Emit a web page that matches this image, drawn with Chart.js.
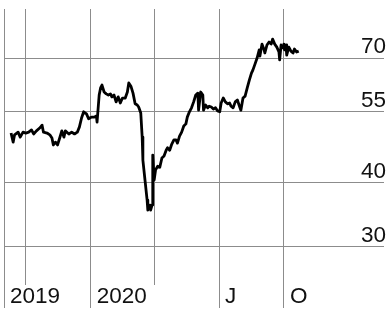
<!DOCTYPE html>
<html>
<head>
<meta charset="utf-8">
<script src="https://cdn.jsdelivr.net/npm/chart.js@4"></script>
<style>
  html, body { margin: 0; padding: 0; background: #fff; }
  #wrap { width: 388px; height: 311px; }
</style>
</head>
<body>
<div id="wrap"><canvas id="priceChart"></canvas></div>
<script>
const dates = [
  "2019-09-10", "2019-09-13", "2019-09-15", "2019-09-20", "2019-09-23", "2019-09-27",
  "2019-10-01", "2019-10-05", "2019-10-09", "2019-10-12", "2019-10-16", "2019-10-21",
  "2019-10-24", "2019-10-26", "2019-10-31", "2019-11-04", "2019-11-07", "2019-11-09",
  "2019-11-12", "2019-11-15", "2019-11-18", "2019-11-21", "2019-11-24", "2019-11-26",
  "2019-12-01", "2019-12-05", "2019-12-09", "2019-12-13", "2019-12-16", "2019-12-19",
  "2019-12-22", "2019-12-26", "2019-12-29", "2020-01-02", "2020-01-06", "2020-01-09",
  "2020-01-10", "2020-01-13", "2020-01-15", "2020-01-17", "2020-01-20", "2020-01-23",
  "2020-01-26", "2020-01-29", "2020-01-31", "2020-02-03", "2020-02-06", "2020-02-09",
  "2020-02-12", "2020-02-15", "2020-02-19", "2020-02-22", "2020-02-24", "2020-02-27",
  "2020-03-01", "2020-03-04", "2020-03-07", "2020-03-09", "2020-03-12", "2020-03-14",
  "2020-03-15", "2020-03-18", "2020-03-21", "2020-03-22", "2020-03-25", "2020-03-26",
  "2020-03-28", "2020-03-29", "2020-03-31", "2020-04-02", "2020-04-05", "2020-04-08",
  "2020-04-11", "2020-04-14", "2020-04-17", "2020-04-19", "2020-04-22", "2020-04-25",
  "2020-04-28", "2020-05-01", "2020-05-03", "2020-05-06", "2020-05-09", "2020-05-12",
  "2020-05-15", "2020-05-17", "2020-05-20", "2020-05-23", "2020-05-26", "2020-05-29",
  "2020-06-01", "2020-06-02", "2020-06-05", "2020-06-08", "2020-06-09", "2020-06-12",
  "2020-06-15", "2020-06-17", "2020-06-20", "2020-06-23", "2020-06-26", "2020-06-29",
  "2020-07-02", "2020-07-04", "2020-07-07", "2020-07-10", "2020-07-13", "2020-07-16",
  "2020-07-18", "2020-07-21", "2020-07-24", "2020-07-27", "2020-07-30", "2020-08-01",
  "2020-08-04", "2020-08-07", "2020-08-10", "2020-08-13", "2020-08-16", "2020-08-18",
  "2020-08-21", "2020-08-24", "2020-08-27", "2020-08-28", "2020-08-31", "2020-09-03",
  "2020-09-04", "2020-09-07", "2020-09-10", "2020-09-13", "2020-09-15", "2020-09-18",
  "2020-09-21", "2020-09-24", "2020-09-25", "2020-09-27", "2020-09-30", "2020-10-01",
  "2020-10-02", "2020-10-04", "2020-10-05", "2020-10-08", "2020-10-11", "2020-10-14",
  "2020-10-16", "2020-10-19", "2020-10-22"
];

const prices = [
  50.0, 48.0, 49.6, 50.2, 49.1, 50.2,
  50.0, 50.2, 50.7, 49.8, 50.5, 51.2,
  51.8, 50.2, 50.0, 49.6, 48.9, 47.4,
  48.0, 47.4, 48.9, 50.5, 49.1, 50.5,
  49.8, 50.2, 49.8, 50.2, 51.4, 53.5,
  55.0, 54.5, 53.3, 53.7, 53.7, 54.0,
  52.5, 59.3, 61.2, 62.0, 60.1, 59.6,
  59.3, 59.6, 58.8, 59.3, 57.5, 58.8,
  57.2, 58.5, 58.5, 60.1, 62.6, 61.7,
  59.8, 57.0, 56.7, 56.2, 54.7, 49.1,
  44.3, 40.5, 37.0, 35.4, 36.2, 35.4,
  36.2, 45.3, 40.5, 42.4, 43.1, 42.9,
  44.7, 45.1, 46.3, 46.8, 46.3, 47.6,
  48.5, 48.5, 47.8, 49.3, 50.2, 51.6,
  52.1, 53.7, 55.0, 56.0, 57.5, 59.3,
  59.8, 55.4, 60.1, 59.3, 55.4, 56.7,
  56.0, 56.4, 56.2, 55.7, 56.0, 55.2,
  55.0, 57.2, 58.5, 57.5, 57.0, 57.2,
  56.4, 56.0, 57.5, 58.0, 56.4, 55.4,
  58.5, 59.0, 61.2, 63.4, 65.4, 66.3,
  68.1, 70.0, 72.6, 70.6, 74.5, 72.6,
  71.6, 74.2, 75.2, 74.5, 76.2, 74.5,
  73.5, 71.9, 69.4, 74.2, 73.2, 74.5,
  72.6, 74.2, 70.9, 73.5, 72.2, 71.6,
  72.9, 71.9, 72.2
];

// x ticks: dates of the vertical grid lines, label "" = no label
const xTickDates = ["2019-08-31", "2019-10-01", "2020-01-01", "2020-04-01", "2020-07-01", "2020-10-01"];
const xTickLabels = ["2019", "", "2020", "", "J", "O"];
const yTicks = [30, 40, 55, 70];

const DAY = 86400000;
const origin = Date.parse("2020-01-01");
const toDay = (s) => Math.round((Date.parse(s) - origin) / DAY);

const points = dates.map((d, i) => ({ x: toDay(d), y: prices[i] }));
const xTickDays = xTickDates.map(toDay);

const FONT = { family: "'Liberation Sans', Arial, sans-serif", size: 22.5, lineHeight: 1 };

new Chart(document.getElementById("priceChart").getContext("2d"), {
  type: "line",
  data: {
    datasets: [
      {
        data: points,
        borderColor: "#000",
        borderWidth: 2.8,
        pointRadius: 0,
        tension: 0,
        borderJoinStyle: "round",
        fill: false,
      },
    ],
  },
  options: {
    responsive: true,
    maintainAspectRatio: false,
    animation: false,
    layout: { padding: { top: 9, left: 4, right: 0, bottom: 0 } },
    scales: {
      x: {
        type: "linear",
        min: xTickDays[0],
        max: 416,
        afterBuildTicks: (scale) => {
          scale.ticks = xTickDays.map((v) => ({ value: v }));
        },
        afterFit: (scale) => {
          scale.height = 26;
        },
        grid: {
          color: "#8c8c8c",
          lineWidth: 1,
          drawTicks: true,
          tickLength: 23,
          tickColor: (c) => (xTickLabels[c.index] ? "#8c8c8c" : "rgba(0,0,0,0)"),
        },
        border: { display: false },
        ticks: {
          autoSkip: false,
          maxRotation: 0,
          align: "start",
          labelOffset: 6,
          padding: -22,
          color: "#111",
          font: FONT,
          callback: (v, i) => xTickLabels[i],
        },
      },
      y: {
        type: "logarithmic",
        position: "right",
        min: 25.3,
        max: 87.2,
        afterBuildTicks: (scale) => {
          scale.ticks = yTicks.map((v) => ({ value: v }));
        },
        afterFit: (scale) => {
          scale.paddingTop = 0;
          scale.paddingBottom = 0;
        },
        grid: {
          color: "#8c8c8c",
          lineWidth: 1,
          drawTicks: false,
        },
        border: { display: false },
        ticks: {
          mirror: true,
          padding: 2,
          labelOffset: -11,
          color: "#111",
          font: FONT,
          callback: (v) => String(v),
        },
      },
    },
    plugins: {
      legend: { display: false },
      tooltip: { enabled: false },
    },
  },
});
</script>
</body>
</html>
